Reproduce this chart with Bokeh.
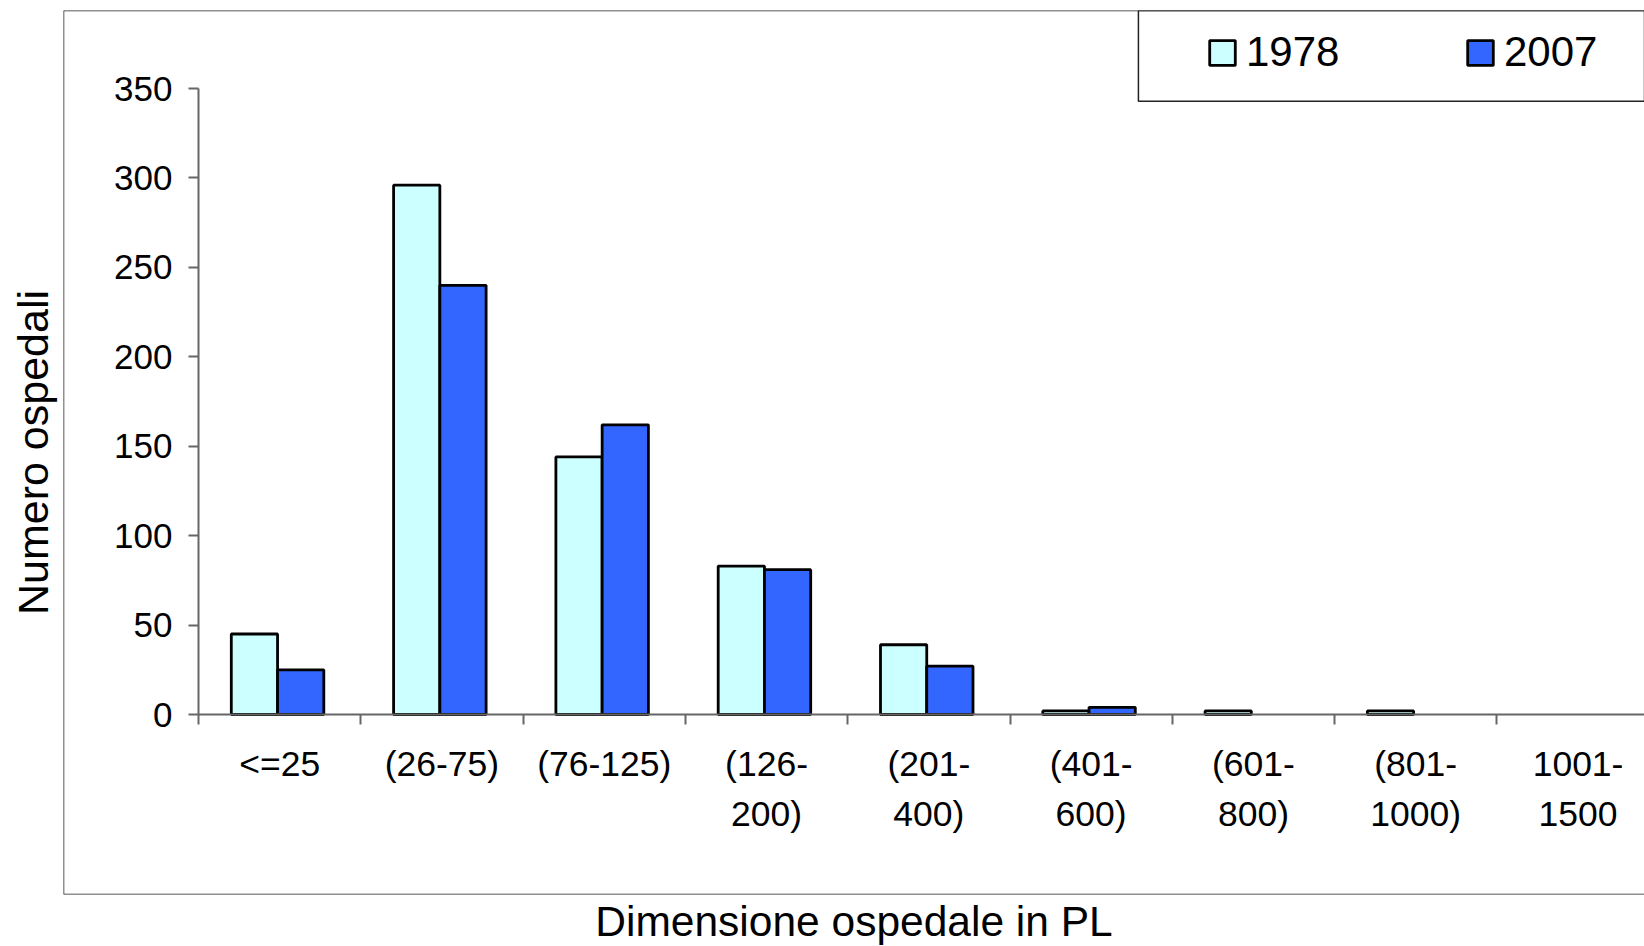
import numpy as np
from bokeh.plotting import figure
from bokeh.models import (Range1d, LinearAxis, FixedTicker, Title, Legend, LegendItem,
                          BoxAnnotation, Span, ColumnDataSource)
from bokeh.transform import dodge
from bokeh.embed import file_html
from bokeh.resources import INLINE

# ---------------- data ----------------
categories = ["<=25", "(26-75)", "(76-125)", "(126-\n200)", "(201-\n400)",
              "(401-\n600)", "(601-\n800)", "(801-\n1000)", "1001-\n1500"]
values_1978 = [45, 296, 144, 83, 39, 2, 2, 2, 0]
values_2007 = [25, 240, 162, 81, 27, 4, 0, 0, 0]
series_labels = ["1978", "2007"]
y_ticks = [0, 50, 100, 150, 200, 250, 300, 350]
y_title = "Numero ospedali"
x_title = "Dimensione ospedale in PL"

# ---------------- layout (canvas pixels) ----------------
W, H = 1644, 946
FRAME_L, FRAME_T, FRAME_B, FRAME_R = 62, 10, 894, W
Y0_PX, PX_PER_UNIT = 714.0, 1.7884
X0_PX, PX_PER_CAT = 197.1, 162.4
FONT = "Liberation Sans"
AX = "#666666"
C1978 = "#CCFFFF"
C2007 = "#3366FF"
BAR_W = 0.285
PAIR_SHIFT = -0.013

y_start = -(FRAME_B - Y0_PX) / PX_PER_UNIT
y_end = (Y0_PX - FRAME_T) / PX_PER_UNIT
x_start = -(X0_PX - FRAME_L) / PX_PER_CAT
x_end = (FRAME_R - X0_PX) / PX_PER_CAT

n = len(categories)
xs = [i + 0.5 for i in range(n)]
src = ColumnDataSource(dict(
    x=xs,
    v1978=[v if v > 0 else np.nan for v in values_1978],
    v2007=[v if v > 0 else np.nan for v in values_2007],
))

p = figure(width=W, height=H, x_range=Range1d(x_start, x_end), y_range=Range1d(y_start, y_end),
           x_axis_type=None, y_axis_type=None, toolbar_location=None, output_backend="svg",
           min_border_left=FRAME_L, min_border_top=FRAME_T, min_border_bottom=H - FRAME_B,
           min_border_right=0, outline_line_color=None,
           background_fill_color="white", border_fill_color="white")
p.title.visible = False

r1 = p.vbar(x=dodge("x", PAIR_SHIFT - BAR_W / 2), top="v1978", bottom=0, width=BAR_W,
            source=src, fill_color=C1978, line_color="black", line_width=2.8)
r2 = p.vbar(x=dodge("x", PAIR_SHIFT + BAR_W / 2), top="v2007", bottom=0, width=BAR_W,
            source=src, fill_color=C2007, line_color="black", line_width=2.8)

# y axis
yaxis = LinearAxis(ticker=FixedTicker(ticks=y_ticks), fixed_location=0,
                   bounds=(y_ticks[0], y_ticks[-1]),
                   axis_line_color=AX, axis_line_width=2,
                   major_tick_out=10, major_tick_in=0, major_tick_line_color=AX,
                   major_tick_line_width=2, minor_tick_line_color=None,
                   major_label_text_font=FONT, major_label_text_font_size="35px",
                   major_label_text_color="black", major_label_standoff=16)
p.add_layout(yaxis, "left")

# x axis (line + boundary ticks)
xaxis = LinearAxis(ticker=FixedTicker(ticks=list(range(n + 1))), fixed_location=0,
                   bounds=(0, n), axis_line_color=AX, axis_line_width=2,
                   major_tick_out=10, major_tick_in=0, major_tick_line_color=AX,
                   major_tick_line_width=2, minor_tick_line_color=None,
                   major_label_overrides={i: "" for i in range(n + 1)})
p.add_layout(xaxis, "below")

# x axis category labels
xlab = LinearAxis(ticker=FixedTicker(ticks=xs), fixed_location=0,
                  axis_line_color=None, major_tick_line_color=None,
                  minor_tick_line_color=None, major_tick_out=10, major_tick_in=0,
                  major_label_overrides={x: c for x, c in zip(xs, categories)},
                  major_label_text_font=FONT, major_label_text_font_size="35.5px",
                  major_label_text_color="black", major_label_text_line_height=1.26,
                  major_label_standoff=19)
p.add_layout(xlab, "below")

# titles
p.add_layout(Title(text=y_title, text_font=FONT, text_font_size="43px", text_color="black",
                   text_font_style="normal", align="center", standoff=13), "left")
p.add_layout(Title(text=x_title, text_font=FONT, text_font_size="42.5px", text_color="black",
                   text_font_style="normal", align="center", standoff=3), "below")

# plot-area border (top, bottom, left)
for loc, dim in [(y_end, "width"), (y_start, "width")]:
    p.add_layout(Span(location=loc, dimension=dim, line_color="#222222", line_width=1.5))
p.add_layout(Span(location=x_start, dimension="height", line_color="#222222", line_width=1.5))

# legend box
LEG_L_PX, LEG_B_PX = 1137.6, 100.7
p.add_layout(BoxAnnotation(left=(LEG_L_PX - X0_PX) / PX_PER_CAT,
                           bottom=(Y0_PX - LEG_B_PX) / PX_PER_UNIT,
                           fill_color=None, line_color="#222222", line_width=1.5, line_alpha=1))

legend = Legend(items=[LegendItem(label=series_labels[0], renderers=[r1]),
                       LegendItem(label=series_labels[1], renderers=[r2])],
                orientation="horizontal", location=(1143, 818),
                glyph_width=32, glyph_height=31, label_standoff=8, label_width=218,
                spacing=0, padding=0, margin=0, border_line_color=None,
                background_fill_alpha=0, label_text_font=FONT, label_text_font_size="42px",
                label_text_color="black")
p.add_layout(legend)

open("out.html", "w").write(file_html(p, INLINE))
